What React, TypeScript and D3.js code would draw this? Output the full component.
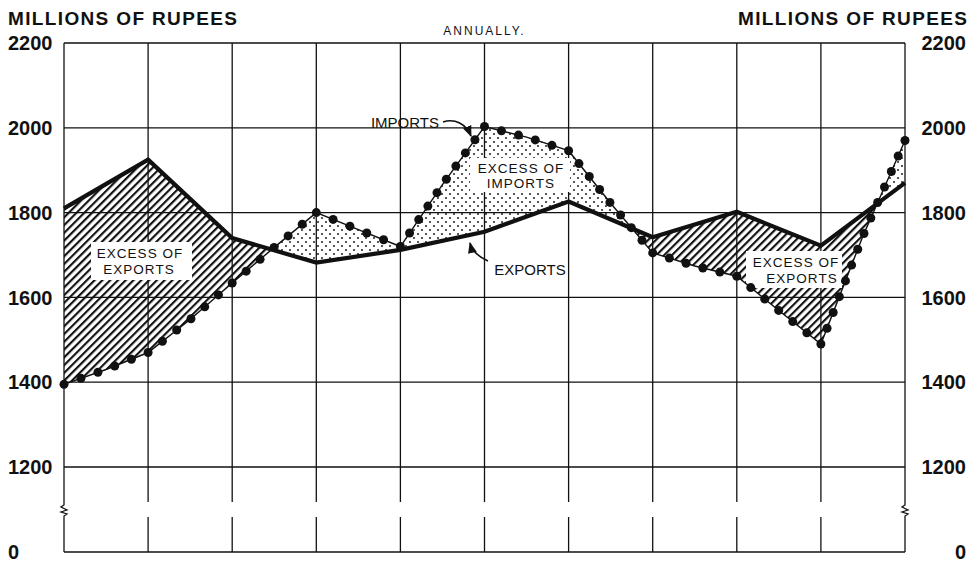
import React from "react";
import * as d3 from "d3";

// annual positions (the chart shows no year labels)
const years = [0, 1, 2, 3, 4, 5, 6, 7, 8, 9, 10];
const exportsM = [1810, 1925, 1740, 1682, 1712, 1755, 1826, 1742, 1802, 1722, 1870];

// imports read at half-year steps
const importSteps = [0, 0.5, 1, 1.5, 2, 2.5, 3, 3.5, 4, 4.5, 5, 5.5, 6, 6.5, 7, 7.5, 8, 8.5, 9, 9.5, 10];
const importsM = [1395, 1430, 1470, 1548, 1634, 1718, 1800, 1760, 1720, 1866, 2003, 1978, 1946, 1822, 1705, 1674, 1650, 1569, 1490, 1745, 1970];

const yTicks = [1200, 1400, 1600, 1800, 2000, 2200];

const W = 980;
const H = 563;
const left = 64;
const right = 905;
const top = 43;
const bottom = 552; // the "0" line, below the break
const breakTop = 502;
const breakBottom = 517;

const font = "'Liberation Sans', Arial, sans-serif";

// put dots evenly along each year's stretch so they land on the turns
function dotsAlong(pts: [number, number][], perYear: number, gap: number) {
  const out: [number, number][] = [];
  for (let s = 0; s + perYear < pts.length; s += perYear) {
    const seg = pts.slice(s, s + perYear + 1);
    const lens = seg.slice(1).map((p, i) => Math.hypot(p[0] - seg[i][0], p[1] - seg[i][1]));
    const total = d3.sum(lens);
    const n = Math.max(1, Math.round(total / gap));
    for (let k = 0; k < n; k++) {
      let d = (total * k) / n;
      let i = 0;
      while (i < lens.length - 1 && d > lens[i]) {
        d -= lens[i];
        i++;
      }
      const t = lens[i] ? d / lens[i] : 0;
      out.push([seg[i][0] + (seg[i + 1][0] - seg[i][0]) * t, seg[i][1] + (seg[i + 1][1] - seg[i][1]) * t]);
    }
  }
  out.push(pts[pts.length - 1]);
  return out;
}

export default function App() {
  const x = d3.scaleLinear().domain([0, 10]).range([left, right]);
  const y = d3.scaleLinear().domain([1200, 2200]).range([467, top]);

  const expPts: [number, number][] = years.map((t, i) => [x(t), y(exportsM[i])]);
  const impPts: [number, number][] = importSteps.map((t, i) => [x(t), y(importsM[i])]);

  const line = d3.line();
  const areaAbove = d3.area().y0(top).y1((d) => d[1]);
  const areaBelow = d3.area().y0((d) => d[1]).y1(bottom);

  const dots = dotsAlong(impPts, 2, 17);

  const squiggle = (cx: number) =>
    `M${cx},${breakTop} L${cx},${breakTop + 3} L${cx - 3},${breakTop + 5} L${cx + 3},${breakTop + 8} L${cx - 3},${breakTop + 10} L${cx + 3},${breakTop + 12} L${cx},${breakTop + 14} L${cx},${breakBottom}`;

  const labelStyle = { fontFamily: font, fontSize: 13.5, letterSpacing: 1, fill: "#111" };

  return (
    <svg width={W} height={H} style={{ position: "absolute", left: 0, top: 0, background: "#fff" }}>
      <defs>
        <pattern id="hatch" patternUnits="userSpaceOnUse" width={5.5} height={5.5} patternTransform="rotate(45)">
          <line x1={1} y1={0} x2={1} y2={5.5} stroke="#111" strokeWidth={2.3} />
        </pattern>
        <pattern id="dots" patternUnits="userSpaceOnUse" width={8} height={8}>
          <circle cx={2} cy={2} r={0.95} fill="#111" />
          <circle cx={6} cy={6} r={0.95} fill="#111" />
        </pattern>
        <clipPath id="aboveImp">
          <path d={areaAbove(impPts) || ""} />
        </clipPath>
        <clipPath id="belowImp">
          <path d={areaBelow(impPts) || ""} />
        </clipPath>
        <clipPath id="aboveExp">
          <path d={areaAbove(expPts) || ""} />
        </clipPath>
        <clipPath id="belowExp">
          <path d={areaBelow(expPts) || ""} />
        </clipPath>
        <marker id="head" viewBox="0 0 10 10" refX={9} refY={5} markerWidth={7} markerHeight={7} orient="auto">
          <path d="M0,1 L10,5 L0,9 Z" fill="#111" />
        </marker>
      </defs>

      {/* titles */}
      <text x={8} y={25} fontFamily={font} fontWeight="bold" fontSize={19} textLength={229} lengthAdjust="spacing" fill="#111">
        MILLIONS OF RUPEES
      </text>
      <text x={738} y={25} fontFamily={font} fontWeight="bold" fontSize={19} textLength={229} lengthAdjust="spacing" fill="#111">
        MILLIONS OF RUPEES
      </text>
      <text x={(left + right) / 2} y={35} textAnchor="middle" fontFamily={font} fontSize={12} letterSpacing={2} fill="#111">
        ANNUALLY.
      </text>

      {/* excess fills */}
      <g clipPath="url(#aboveImp)">
        <rect x={left} y={top} width={right - left} height={bottom - top} fill="url(#hatch)" clipPath="url(#belowExp)" />
      </g>
      <g clipPath="url(#belowImp)">
        <rect x={left} y={top} width={right - left} height={bottom - top} fill="url(#dots)" clipPath="url(#aboveExp)" />
      </g>

      {/* grid */}
      <g stroke="#111" strokeWidth={1.3} fill="none">
        {yTicks.map((v) => (
          <line key={v} x1={left} x2={right} y1={y(v)} y2={y(v)} />
        ))}
        <line x1={left} x2={right} y1={bottom} y2={bottom} />
        {years.map((t) => (
          <g key={t}>
            <line x1={x(t)} x2={x(t)} y1={top} y2={breakTop} />
            <line x1={x(t)} x2={x(t)} y1={breakBottom} y2={bottom} />
          </g>
        ))}
        <path d={squiggle(left)} />
        <path d={squiggle(right)} />
      </g>

      {/* axis labels */}
      <g fontFamily={font} fontWeight="bold" fontSize={20} fill="#111">
        {yTicks.map((v) => (
          <g key={v}>
            <text x={8} y={y(v)} dy="0.36em">{v}</text>
            <text x={966} y={y(v)} dy="0.36em" textAnchor="end">{v}</text>
          </g>
        ))}
        <text x={8} y={bottom} dy="0.36em">0</text>
        <text x={966} y={bottom} dy="0.36em" textAnchor="end">0</text>
      </g>

      {/* label boxes */}
      <rect x={91} y={242} width={101} height={38} fill="#fff" />
      <rect x={470} y={158} width={100} height={34} fill="#fff" />
      <rect x={746} y={251} width={96} height={37} fill="#fff" />
      <g {...labelStyle} textAnchor="middle">
        <text x={140} y={258}>EXCESS OF</text>
        <text x={139} y={274}>EXPORTS</text>
        <text x={521} y={173}>EXCESS OF</text>
        <text x={521} y={188}>IMPORTS</text>
        <text x={796} y={267}>EXCESS OF</text>
        <text x={802} y={283}>EXPORTS</text>
      </g>
      <g fontFamily={font} fontSize={15} fill="#111" textAnchor="middle">
        <text x={405} y={128}>IMPORTS</text>
        <text x={530} y={275}>EXPORTS</text>
      </g>
      <path d="M443,122 C455,118 466,124 471,136" fill="none" stroke="#111" strokeWidth={1.6} markerEnd="url(#head)" />
      <path d="M488,261 C479,257 472,251 470,243" fill="none" stroke="#111" strokeWidth={1.6} markerEnd="url(#head)" />

      {/* imports: thin line with beads */}
      <path d={line(impPts) || ""} fill="none" stroke="#111" strokeWidth={1.4} />
      {dots.map((p, i) => (
        <circle key={i} cx={p[0]} cy={p[1]} r={4.5} fill="#111" />
      ))}

      {/* exports: heavy line */}
      <path d={line(expPts) || ""} fill="none" stroke="#111" strokeWidth={4.2} strokeLinejoin="miter" />
    </svg>
  );
}
